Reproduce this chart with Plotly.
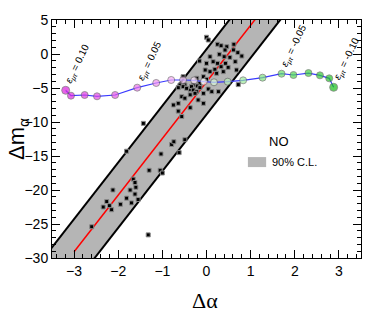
import plotly.graph_objects as go

# ---- data ----
eps = [0.10, 0.09, 0.08, 0.07, 0.06, 0.05, 0.04, 0.03, 0.02, 0.01, 0.00,
       -0.01, -0.02, -0.03, -0.04, -0.05, -0.06, -0.07, -0.08, -0.09, -0.10]
curve_x = [-3.19, -3.07, -2.76, -2.48, -2.07, -1.57, -1.14, -0.80, -0.53, -0.28, -0.06,
           0.17, 0.48, 0.83, 1.27, 1.70, 1.97, 2.31, 2.57, 2.78, 2.88]
curve_y = [-5.34, -6.13, -6.03, -6.22, -6.03, -4.95, -4.26, -3.82, -3.82, -3.87, -4.07,
           -4.16, -4.07, -3.87, -3.48, -2.90, -3.09, -2.80, -3.14, -3.58, -4.90]
label_eps = [0.10, 0.05, -0.05, -0.10]

sc_x = [0.00, 0.04, 0.25, 0.33, 0.46, 0.62, 0.42, 0.29, 0.40, 0.53, 0.08, 0.15, 0.00, 0.25,
        0.43, 0.33, -0.16, -0.03, 0.08, 0.19, 0.23, 0.38, 0.49, 0.65, 0.68, -0.07, 0.00,
        -0.22, -0.15, -0.30, -0.53, -0.60, -0.49, -0.37, -0.21, 0.72, -0.64, -0.53, -0.45,
        -0.34, -0.30, -0.22, -0.15, -0.56, -0.49, -0.37, -0.26, -0.07, 0.04, 0.12, 0.27,
        -0.75, -0.64, -0.37, -0.19, -0.07, -0.64, -0.56, -0.79, -0.74, -0.49, 0.61, 0.71, 0.80,
        -1.43, -1.81, -1.03, -0.62, -1.30, -1.05, -1.00, -1.66, -1.62, -1.60, -1.73, -2.12,
        -1.62, -1.55, -1.70, -1.81, -1.95, -2.20, -2.26, -2.34, -2.15, -2.60, -1.32]
sc_y = [2.46, 2.06, 1.43, 1.22, 1.07, 1.43, 0.59, -0.04, -0.40, -0.49, -0.40, -1.13, -1.37,
        -1.37, -1.37, -1.87, -1.03, -2.35, -2.60, -2.25, -2.84, -2.60, -1.96, -1.13, -2.35,
        -3.34, -3.72, -3.57, -4.31, -4.56, -3.34, -4.56, -4.56, -5.20, -4.70, -4.50, -4.95,
        -4.80, -5.05, -4.80, -5.30, -5.54, -4.95, -6.28, -6.50, -6.00, -5.78, -5.78, -5.15,
        -5.54, -5.54, -7.50, -7.25, -7.90, -6.76, -7.25, -8.40, -9.20, -13.3, -12.9, -12.6,
        0.60, 0.20, -0.30,
        -10.2, -14.3, -14.7, -14.5, -17.1, -17.1, -17.5, -18.4, -18.9, -19.6, -20.0, -20.0,
        -20.6, -21.4, -21.9, -21.2, -22.1, -22.3, -21.7, -22.5, -22.9, -25.4, -26.6]

band_slope = 8.33
band_intercept = -4.1
band_halfwidth = 4.8
fit_x_start = -3.0

x_range = [-3.5, 3.5]
y_range = [-30, 5]

# ---- build ----
def x_at(y, off):
    return (y - band_intercept - off) / band_slope

y_lo, y_hi = -40, 12
band_px = [x_at(y_lo, band_halfwidth), x_at(y_hi, band_halfwidth),
           x_at(y_hi, -band_halfwidth), x_at(y_lo, -band_halfwidth)]
band_py = [y_lo, y_hi, y_hi, y_lo]

fig = go.Figure()
fig.add_trace(go.Scatter(x=band_px + [band_px[0]], y=band_py + [band_py[0]], mode="lines",
                         fill="toself", fillcolor="#b5b5b5", line=dict(width=0),
                         hoverinfo="skip", showlegend=False))
for off in (band_halfwidth, -band_halfwidth):
    fig.add_trace(go.Scatter(x=[x_at(y_lo, off), x_at(y_hi, off)], y=[y_lo, y_hi],
                             mode="lines", line=dict(color="black", width=2),
                             showlegend=False))
fx_end = x_at(y_hi, 0)
fig.add_trace(go.Scatter(x=[fit_x_start, fx_end],
                         y=[band_slope * fit_x_start + band_intercept, y_hi],
                         mode="lines", line=dict(color="red", width=1.5), showlegend=False))
fig.add_trace(go.Scatter(x=sc_x, y=sc_y, mode="markers",
                         marker=dict(symbol="square", size=4, color="black",
                                     line=dict(color="#8a8a8a", width=1)),
                         showlegend=False))
sizes = [8 if abs(e) > 0.095 else 7 for e in eps]
cscale = [[0.0, "#18c018"], [0.2, "#50d850"], [0.3, "#80e480"], [0.4, "#b8f0b8"],
          [0.5, "#ffffff"], [0.6, "#f6c8f6"], [0.7, "#f090f0"], [0.8, "#e858e8"],
          [1.0, "#dc20dc"]]
fig.add_trace(go.Scatter(x=curve_x, y=curve_y, mode="lines+markers",
                         line=dict(color="#3a3aff", width=1.2),
                         marker=dict(size=sizes, color=eps, cmin=-0.1, cmax=0.1,
                                     colorscale=cscale,
                                     line=dict(color="#555555", width=0.8)),
                         showlegend=False))

for e in label_eps:
    i = eps.index(e)
    fig.add_annotation(x=curve_x[i], y=curve_y[i], xref="x", yref="y",
                       text="<i>ε</i><sub><i>μτ</i></sub> = %.2f" % e,
                       textangle=-64, showarrow=False, xanchor="left", yanchor="bottom",
                       xshift=-5, yshift=2,
                       font=dict(family="Liberation Sans", size=10, color="black"))

# legend (manual)
fig.add_shape(type="rect", xref="paper", yref="paper", x0=0.634, x1=0.693, y0=0.382, y1=0.424,
              fillcolor="#b5b5b5", line=dict(width=0))
fig.add_annotation(xref="paper", yref="paper", x=0.735, y=0.488, text="NO", showarrow=False,
                   xanchor="center", yanchor="middle",
                   font=dict(family="Liberation Sans", size=13, color="black"))
fig.add_annotation(xref="paper", yref="paper", x=0.705, y=0.403, text="90% C.L.", showarrow=False,
                   xanchor="left", yanchor="middle",
                   font=dict(family="Liberation Sans", size=11, color="black"))

# axis titles
fig.add_annotation(xref="paper", yref="paper", x=(205 - 52) / 309, y=(258 - 300) / 238,
                   text="Δα", showarrow=False, xanchor="center", yanchor="middle",
                   font=dict(family="Liberation Serif", size=22, color="black"))
fig.add_annotation(xref="paper", yref="paper", x=(18 - 52) / 309, y=(258 - 139) / 238,
                   text="Δm<sub>α</sub>", showarrow=False, textangle=-90,
                   xanchor="center", yanchor="middle",
                   font=dict(family="Liberation Sans", size=22, color="black"))

axis_common = dict(showgrid=False, zeroline=False, showline=True, linecolor="black",
                   linewidth=1, mirror="allticks", ticks="inside", tickcolor="black",
                   tickfont=dict(family="Liberation Sans", size=14, color="black"))
fig.update_xaxes(range=x_range, dtick=1, tick0=0, ticklen=8,
                 minor=dict(dtick=0.2, ticks="inside", ticklen=4, tickcolor="black"),
                 **axis_common)
fig.update_yaxes(range=y_range, dtick=5, tick0=0, ticklen=8,
                 minor=dict(dtick=1, ticks="inside", ticklen=4, tickcolor="black"),
                 **axis_common)
fig.update_layout(width=374, height=316, margin=dict(l=52, r=13, t=20, b=58),
                  paper_bgcolor="white", plot_bgcolor="white", showlegend=False)

fig.write_html("out.html", config={"displayModeBar": False},
               post_script="document.body.style.margin='0';document.body.style.padding='0';")
